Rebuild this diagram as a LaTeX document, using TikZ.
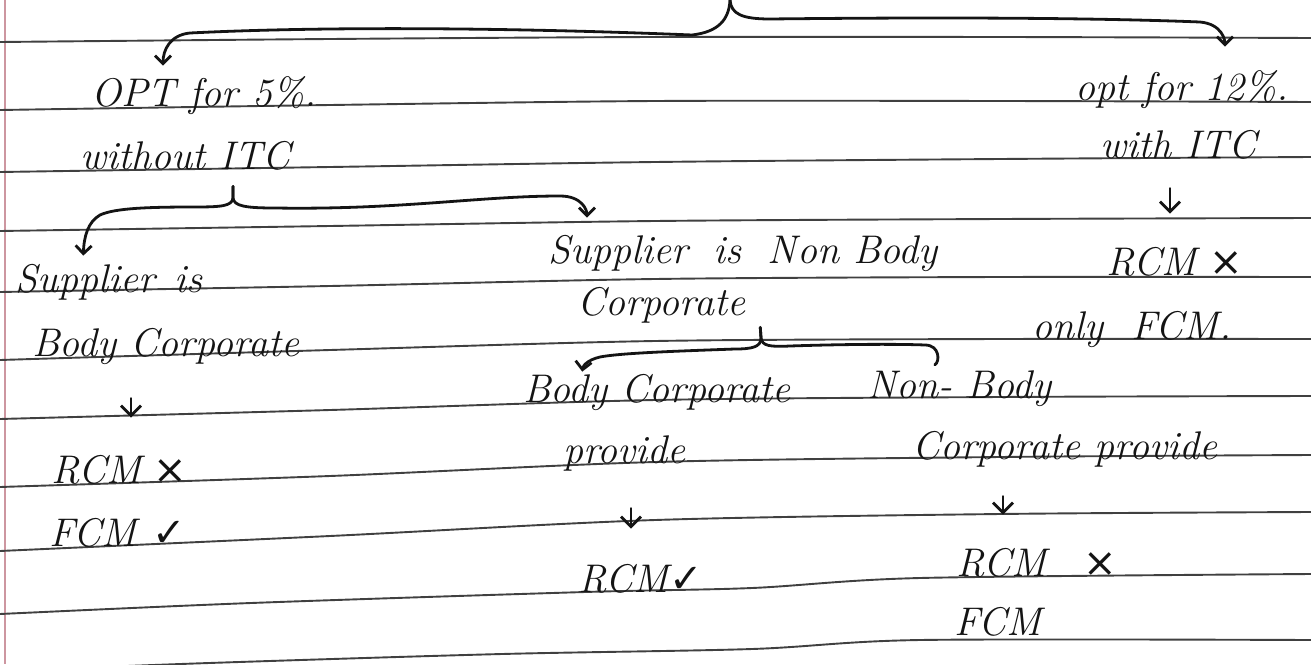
\documentclass[tikz,border=0pt]{standalone}
\usepackage{fontspec}
\newfontfamily\symf{DejaVu Sans}
\usetikzlibrary{arrows.meta}
\begin{document}
\begin{tikzpicture}[x=0.5pt,y=-0.5pt,
  rule/.style={line width=0.95pt, draw=black!75},
  ink/.style={line width=1.4pt, draw=black!92, line cap=round, line join=round},
  arr/.style={ink, -{Straight Barb[length=4pt,width=8pt,line width=1.4pt]}},
  sarr/.style={ink, -{Straight Barb[length=5pt,width=10pt,line width=1.4pt]}},
  hook/.style={ink},
  hw/.style={font=\fontsize{20}{24}\selectfont\itshape, text=black!92, inner sep=0pt,
             text height=14pt, text depth=4pt, anchor=base west}]
\useasboundingbox (0,0) rectangle (1311,664);
\fill[white] (0,0) rectangle (1311,664);
% margin line
\draw[line width=0.6pt, draw={rgb,255:red,205;green,150;blue,160}] (5,0) -- (5,664);
% ruled lines
\draw[rule] plot[smooth] coordinates {(0,42) (330,39) (655,37) (1000,37) (1311,38)};
\draw[rule] plot[smooth] coordinates {(0,110) (330,105) (655,101) (1000,101) (1311,102)};
\draw[rule] plot[smooth] coordinates {(0,172) (330,167) (655,162) (1000,159) (1311,157)};
\draw[rule] plot[smooth] coordinates {(0,231) (330,226) (655,221) (1000,219) (1311,218)};
\draw[rule] plot[smooth] coordinates {(0,292) (330,286) (655,279) (1000,277) (1311,277)};
\draw[rule] plot[smooth] coordinates {(0,360) (330,350) (655,341) (1000,339) (1311,339)};
\draw[rule] plot[smooth] coordinates {(0,419) (330,410) (655,400) (1000,397) (1311,396)};
\draw[rule] plot[smooth] coordinates {(0,487) (330,476) (655,462) (1000,457) (1311,455)};
\draw[rule] plot[smooth] coordinates {(0,551) (330,536) (655,520) (1000,514) (1311,512)};
\draw[rule] plot[smooth] coordinates {(0,614) (251,603) (585,592) (752,588) (920,578) (1311,574)};
\draw[rule] plot[smooth] coordinates {(0,671) (209,663) (502,654) (752,649) (920,640) (1311,640)};

% texts
\node[hw] (o5)  at (91,106)  {OPT for 5\%.};
\node[hw] (wo)  at (80,169)  {without ITC};
\node[hw] (o12) at (1075,100) {opt for 12\%.};
\node[hw] (wi)  at (1100,158) {with ITC};
\node[hw] (rcR) at (1106,275) {RCM\hspace{6pt}{\symf ×}};
\node[hw] (onl) at (1032,339) {only\hspace{14pt}FCM.};
\node[hw] (s1)  at (15,292)  {Supplier\hspace{10pt}is};
\node[hw] (bc1) at (32,356)  {Body Corporate};
\node[hw] (rc1) at (51,483)  {RCM\hspace{6pt}{\symf ×}};
\node[hw] (fc1) at (49,546)  {FCM\hspace{8pt}{\symf ✓}};
\node[hw] (s2)  at (548,263) {Supplier\hspace{6pt} is\hspace{6pt} Non Body};
\node[hw] (cp2) at (577,315) {Corporate};
\node[hw] (bc3) at (523,402) {Body Corporate};
\node[hw] (pr3) at (563,463) {provide};
\node[hw] (rc3) at (578,592) {RCM{\symf ✓}};
\node[hw] (nb4) at (867,398) {Non- Body};
\node[hw] (cp4) at (912,459) {Corporate provide};
\node[hw] (rc4) at (956,576) {RCM\hspace{18pt}{\symf ×}};
\node[hw] (fc4) at (954,635) {FCM};

% top brace
\coordinate (topc) at (730,0);
\draw[arr, shorten >=6pt] (topc) .. controls (729,20) and (718,32) .. (692,35)
   .. controls (520,28) and (330,26) .. (190,33)
   .. controls (170,35) and (163,50) .. (o5.north -| 163,0);
\draw[arr, shorten >=12.5pt] (topc) .. controls (731,14) and (742,19) .. (770,19)
   .. controls (950,17) and (1100,18) .. (1200,22)
   .. controls (1222,24) and (1225,40) .. (o12.north -| 1225,0);

% brace under "without ITC"
\draw[arr, shorten <=4.5pt, shorten >=4pt] (wo.south -| 233,0) -- (233,198)
   .. controls (232,206) and (222,207) .. (195,207)
   .. controls (150,207) and (115,208) .. (100,215)
   .. controls (88,222) and (84,236) .. (s1.north -| 83,0);
\draw[arr, shorten <=4.5pt, shorten >=8.5pt] (wo.south -| 233,0) -- (233,198)
   .. controls (234,206) and (245,208) .. (275,208)
   .. controls (400,210) and (480,196) .. (560,196)
   .. controls (582,196) and (587,210) .. (s2.north -| 587,0);

% brace under "Corporate"
\draw[arr, shorten <=2pt, shorten >=1pt] (cp2.south -| 760,0) -- (761,338)
   .. controls (761,347) and (752,349) .. (735,349)
   .. controls (680,351) and (620,353) .. (600,357)
   .. controls (587,360) and (583,366) .. (bc3.north -| 582,0);
\draw[hook, shorten <=2pt, shorten >=5pt] (cp2.south -| 760,0) -- (761,338)
   .. controls (762,346) and (770,347) .. (790,346)
   .. controls (850,344) and (900,344) .. (925,345)
   .. controls (940,345) and (940,362) .. (nb4.north -| 926,0);

% short arrows
\draw[sarr, shorten <=11pt, shorten >=16.5pt] (wi.south -| 1170,0) -- (rcR.north -| 1170,0);
\draw[sarr, shorten <=17pt, shorten >=18.5pt] (bc1.south -| 131,0) -- (rc1.north -| 131,0);
\draw[sarr, shorten <=18.5pt, shorten >=17.5pt] (pr3.south -| 631,0) -- (rc3.north -| 631,0);
\draw[sarr, shorten <=14.5pt, shorten >=16.5pt] (cp4.south -| 1003,0) -- (rc4.north -| 1003,0);
\end{tikzpicture}
\end{document}
